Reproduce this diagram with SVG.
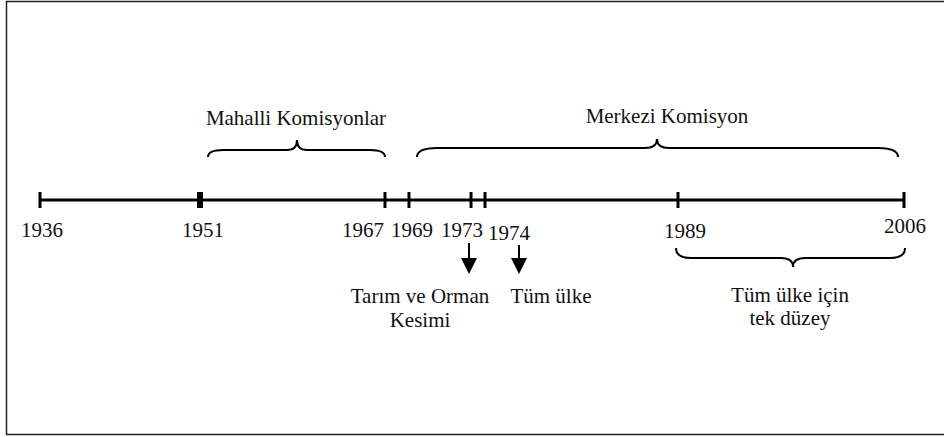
<svg xmlns="http://www.w3.org/2000/svg" width="944" height="437" viewBox="0 0 944 437">
<style>
text{font-family:'Liberation Serif','Tinos','DejaVu Serif',serif;font-size:21px;fill:#111;text-anchor:middle}
.axis{stroke:#000;stroke-width:3;fill:none}
.tick{stroke:#000;stroke-width:3}
.brace{stroke:#000;stroke-width:2;fill:none}
.arr{stroke:#000;stroke-width:2}
</style>
<rect x="6.5" y="1.5" width="945" height="433" fill="#fff" stroke="#222" stroke-width="1.5"/>
<g id="timeline">
<line class="axis" x1="40" y1="200" x2="904" y2="200"/>
<line class="tick" x1="40" y1="192" x2="40" y2="208"/>
<line class="tick" x1="200" y1="192" x2="200" y2="208" style="stroke-width:6"/>
<line class="tick" x1="385" y1="192" x2="385" y2="208"/>
<line class="tick" x1="409" y1="192" x2="409" y2="208"/>
<line class="tick" x1="471" y1="192" x2="471" y2="208"/>
<line class="tick" x1="485" y1="192" x2="485" y2="208"/>
<line class="tick" x1="678" y1="192" x2="678" y2="208"/>
<line class="tick" x1="904" y1="192" x2="904" y2="208"/>
</g>
<g id="years">
<text x="42" y="237">1936</text>
<text x="203" y="237">1951</text>
<text x="363" y="237">1967</text>
<text x="412" y="237">1969</text>
<text x="462" y="237">1973</text>
<text x="509" y="240">1974</text>
<text x="685" y="238">1989</text>
<text x="905" y="233">2006</text>
</g>
<g id="mahalli">
<path class="brace" d="M208,157 Q208,150 223,150 L287,150 Q297,150 297,140 Q297,150 307,150 L370,150 Q385,150 385,157"/>
<text x="296" y="125">Mahalli Komisyonlar</text>
</g>
<g id="merkezi">
<path class="brace" d="M417,157 Q417,148 437,148 L645,148 Q657,148 657,139 Q657,148 669,148 L878,148 Q898,148 898,157"/>
<text x="667" y="123">Merkezi Komisyon</text>
</g>
<g id="tumulke-icin">
<path class="brace" d="M676,248 Q676,258 691,258 L781,258 Q793,258 793,267 Q793,258 805,258 L890,258 Q905,258 905,248"/>
<text x="790" y="302">Tüm ülke için</text>
<text x="790" y="325">tek düzey</text>
</g>
<g id="tarim">
<text x="420" y="303">Tarım ve Orman</text>
<text x="420" y="327">Kesimi</text>
</g>
<g id="tumulke">
<text x="551" y="303">Tüm ülke</text>
</g>
<g id="connectors">
<line class="arr" x1="469" y1="243" x2="469" y2="260"/>
<path d="M461,258 L477,258 L469,274 Z" fill="#000"/>
<line class="arr" x1="519" y1="245" x2="519" y2="260"/>
<path d="M511,258 L527,258 L519,274 Z" fill="#000"/>
</g>
</svg>
